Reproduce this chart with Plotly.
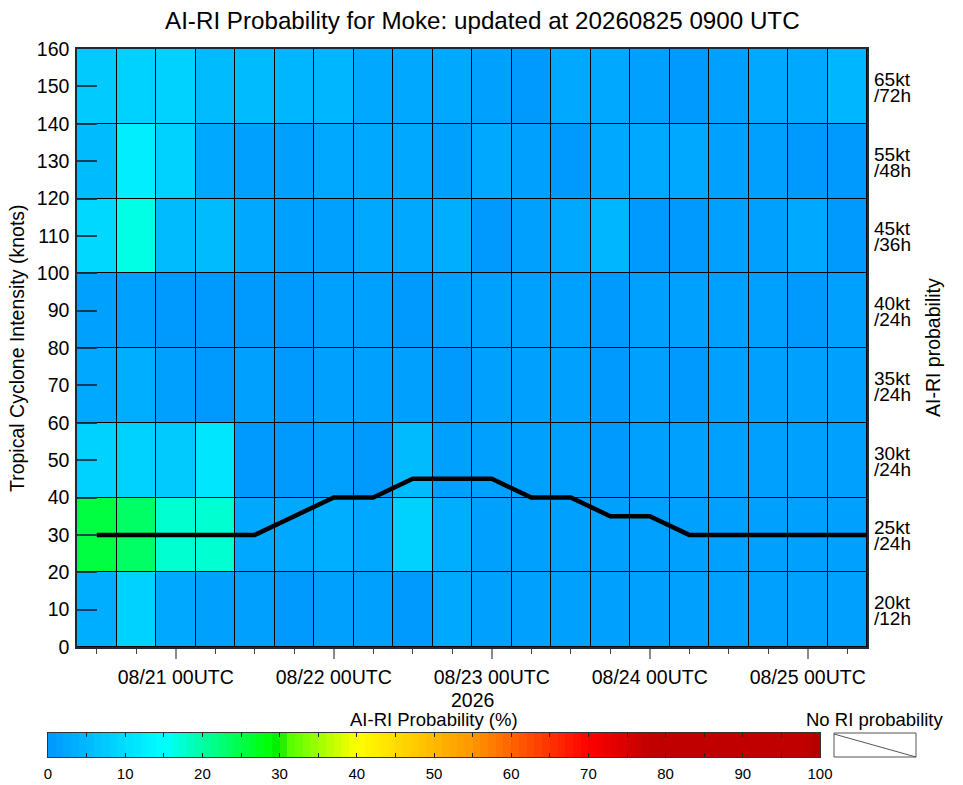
import numpy as np
import pandas as pd
import plotly.graph_objects as go

W, H = 963, 785

# ---------------- data ----------------
valid_times = pd.date_range("2026-08-20 12:00", periods=20, freq="6h")
track_times = pd.date_range("2026-08-20 12:00", periods=21, freq="6h")
track_intensity = [30, 30, 30, 30, 30, 35, 40, 40, 45, 45, 45, 40, 40, 35, 35, 30, 30, 30, 30, 30, 30]

band_centers = [10, 30, 50, 70, 90, 110, 130, 150]
ri_kt = ["20kt", "25kt", "30kt", "35kt", "40kt", "45kt", "55kt", "65kt"]
ri_hours = ["/12h", "/24h", "/24h", "/24h", "/24h", "/36h", "/48h", "/72h"]

prob_000_020 = [3.0, 8.6, 2.6, 1.1, 1.4, 0.7, 1.7, 1.1, 0.5, 2.9, 1.1, 1.1, 1.4, 1.4, 1.4, 1.1, 1.4, 1.4, 1.1, 1.1]
prob_020_040 = [25.1, 23.0, 17.2, 17.2, 2.1, 2.1, 3.1, 2.1, 8.0, 3.6, 1.4, 1.4, 1.7, 1.7, 1.4, 1.1, 1.4, 1.4, 1.7, 1.1]
prob_040_060 = [8.6, 8.3, 7.5, 11.0, 0.7, 0.7, 1.1, 0.7, 5.7, 1.4, 1.1, 1.1, 1.1, 0.7, 1.1, 1.1, 1.1, 1.1, 1.1, 1.1]
prob_060_080 = [2.1, 3.0, 1.4, 0.5, 1.1, 0.7, 1.4, 1.4, 1.1, 0.7, 1.1, 1.1, 1.1, 0.7, 1.1, 0.7, 1.1, 1.1, 1.1, 1.1]
prob_080_100 = [1.1, 1.4, 0.7, 0.2, 0.3, 0.7, 1.0, 1.4, 0.3, 1.1, 1.4, 1.4, 1.4, 0.3, 1.4, 1.1, 1.4, 1.4, 0.7, 1.1]
prob_100_120 = [9.7, 16.4, 5.0, 5.2, 2.1, 1.7, 1.7, 2.1, 2.9, 3.1, 0.7, 1.1, 2.1, 4.0, 0.7, 0.7, 1.1, 1.1, 2.1, 0.7]
prob_120_140 = [5.5, 12.6, 8.3, 2.1, 1.4, 1.1, 2.1, 2.1, 2.9, 1.4, 2.1, 1.1, 0.7, 2.9, 2.1, 2.1, 1.1, 1.4, 0.7, 0.7]
prob_140_160 = [7.1, 8.3, 8.9, 5.0, 5.0, 4.7, 4.7, 2.6, 2.6, 2.6, 1.7, 0.7, 2.1, 2.9, 1.7, 0.7, 1.4, 2.1, 2.1, 4.0]

prob_rows = [prob_000_020, prob_020_040, prob_040_060, prob_060_080,
             prob_080_100, prob_100_120, prob_120_140, prob_140_160]

cbar_levels = np.arange(0, 100, 1) + 0.5

# ---------------- colour scale (stepped, 1 %) ----------------
anchor_v = [0, 15, 29, 30, 31, 40, 55, 70, 78, 98, 100]
anchor_c = [(0, 150, 255), (0, 255, 255), (0, 255, 0), (0, 225, 0), (80, 255, 0),
            (255, 255, 0), (255, 150, 0), (255, 0, 0), (192, 0, 0), (192, 0, 0), (175, 0, 0)]


def col_at(v):
    r = np.interp(v, anchor_v, [c[0] for c in anchor_c])
    g = np.interp(v, anchor_v, [c[1] for c in anchor_c])
    b = np.interp(v, anchor_v, [c[2] for c in anchor_c])
    return f"rgb({int(round(r))},{int(round(g))},{int(round(b))})"


cscale = []
for k in range(100):
    c = col_at(k + 0.5)
    cscale.append([k / 100, c])
    cscale.append([(k + 1) / 100, c])


def px(x):
    return x / W


def py(y):
    return 1 - y / H


FONT = "Liberation Sans, Arial, Helvetica, sans-serif"

fig = go.Figure()

fig.add_trace(go.Heatmap(
    x=valid_times, y=band_centers, z=prob_rows,
    colorscale=cscale, zmin=0, zmax=100, showscale=False,
    xgap=1, ygap=1, hoverinfo="skip",
))

fig.add_trace(go.Scatter(
    x=track_times, y=track_intensity, mode="lines",
    line=dict(color="black", width=4.5), hoverinfo="skip", showlegend=False,
))

fig.add_trace(go.Heatmap(
    x=cbar_levels, y=[0.5], z=[cbar_levels],
    colorscale=cscale, zmin=0, zmax=100, showscale=False,
    xaxis="x2", yaxis="y2", hoverinfo="skip",
))

fig.update_layout(
    width=W, height=H,
    margin=dict(l=0, r=0, t=0, b=0, pad=0, autoexpand=False),
    paper_bgcolor="white", plot_bgcolor="black",
    showlegend=False,
    font=dict(family=FONT, color="black", size=19),
    xaxis=dict(
        domain=[px(77), px(867)],
        range=["2026-08-20 09:00", "2026-08-25 09:00"],
        type="date", automargin=False,
        tick0="2026-08-21 00:00", dtick=86400000,
        tickformat="%m/%d %HUTC",
        ticks="outside", ticklen=10, tickcolor="#8a8a8a", tickwidth=1.5,
        tickfont=dict(size=19.5),
        ticklabelstandoff=2,
        minor=dict(dtick=21600000, tick0="2026-08-20 00:00", ticks="outside",
                   ticklen=5, tickcolor="#444", tickwidth=1.2, showgrid=False),
        showgrid=False, zeroline=False,
        showline=True, linecolor="#1a2a3a", linewidth=1.5, mirror=True,
        anchor="y",
    ),
    yaxis=dict(
        domain=[py(647), py(49)],
        range=[0, 160], automargin=False,
        tick0=0, dtick=10,
        ticks="inside", ticklen=20, tickcolor="rgba(20,40,60,0.85)", tickwidth=1.5,
        tickfont=dict(size=19.5),
        ticklabelstandoff=2,
        showgrid=False, zeroline=False,
        showline=True, linecolor="#1a2a3a", linewidth=1.5, mirror=True,
        anchor="x",
    ),
    xaxis2=dict(
        domain=[px(48), px(820)],
        range=[0, 100], tick0=0, dtick=10, automargin=False,
        ticks="inside", ticklen=4, tickcolor="#222", tickwidth=1,
        minor=dict(dtick=5, ticks="inside", ticklen=4, tickcolor="#222", showgrid=False),
        tickfont=dict(size=15),
        ticklabelstandoff=3,
        showgrid=False, zeroline=False,
        showline=True, linecolor="#333", linewidth=1, mirror="ticks",
        anchor="y2",
    ),
    yaxis2=dict(
        domain=[py(757), py(733)],
        range=[0, 1], showticklabels=False, ticks="", automargin=False,
        showgrid=False, zeroline=False,
        showline=True, linecolor="#333", linewidth=1, mirror=True,
        anchor="x2",
    ),
)

annotations = [
    dict(text="AI-RI Probability for Moke: updated at 20260825 0900 UTC",
         x=px(482), y=py(21), xref="paper", yref="paper",
         xanchor="center", yanchor="middle", showarrow=False, font=dict(size=24.2)),
    dict(text="Tropical Cyclone Intensity (knots)",
         x=px(17), y=py(348), xref="paper", yref="paper", textangle=-90,
         xanchor="center", yanchor="middle", showarrow=False, font=dict(size=19.5)),
    dict(text="AI-RI probability",
         x=px(933), y=py(348), xref="paper", yref="paper", textangle=-90,
         xanchor="center", yanchor="middle", showarrow=False, font=dict(size=19.5)),
    dict(text="2026", x=px(472), y=py(700), xref="paper", yref="paper",
         xanchor="center", yanchor="middle", showarrow=False, font=dict(size=19.5)),
    dict(text="AI-RI Probability (%)", x=px(434), y=py(719), xref="paper", yref="paper",
         xanchor="center", yanchor="middle", showarrow=False, font=dict(size=18.5)),
    dict(text="No RI probability", x=px(875), y=py(719), xref="paper", yref="paper",
         xanchor="center", yanchor="middle", showarrow=False, font=dict(size=18.5)),
]
for yc, kt, hr in zip(band_centers, ri_kt, ri_hours):
    annotations.append(dict(text=kt, x=px(872), y=yc, xref="paper", yref="y",
                            xanchor="left", yanchor="middle", yshift=7, showarrow=False,
                            font=dict(size=19)))
    annotations.append(dict(text=hr, x=px(872), y=yc, xref="paper", yref="y",
                            xanchor="left", yanchor="middle", yshift=-9, showarrow=False,
                            font=dict(size=19)))
fig.update_layout(annotations=annotations)

fig.add_shape(type="rect", xref="paper", yref="paper",
              x0=px(834), x1=px(916), y0=py(757), y1=py(733),
              line=dict(color="#555", width=1), fillcolor="white")
fig.add_shape(type="line", xref="paper", yref="paper",
              x0=px(834), x1=px(916), y0=py(734), y1=py(757),
              line=dict(color="#555", width=1))

fig.write_html(
    "out.html",
    config={"displayModeBar": False},
    post_script="document.body.style.margin='0px'; document.body.style.overflow='hidden';",
)
